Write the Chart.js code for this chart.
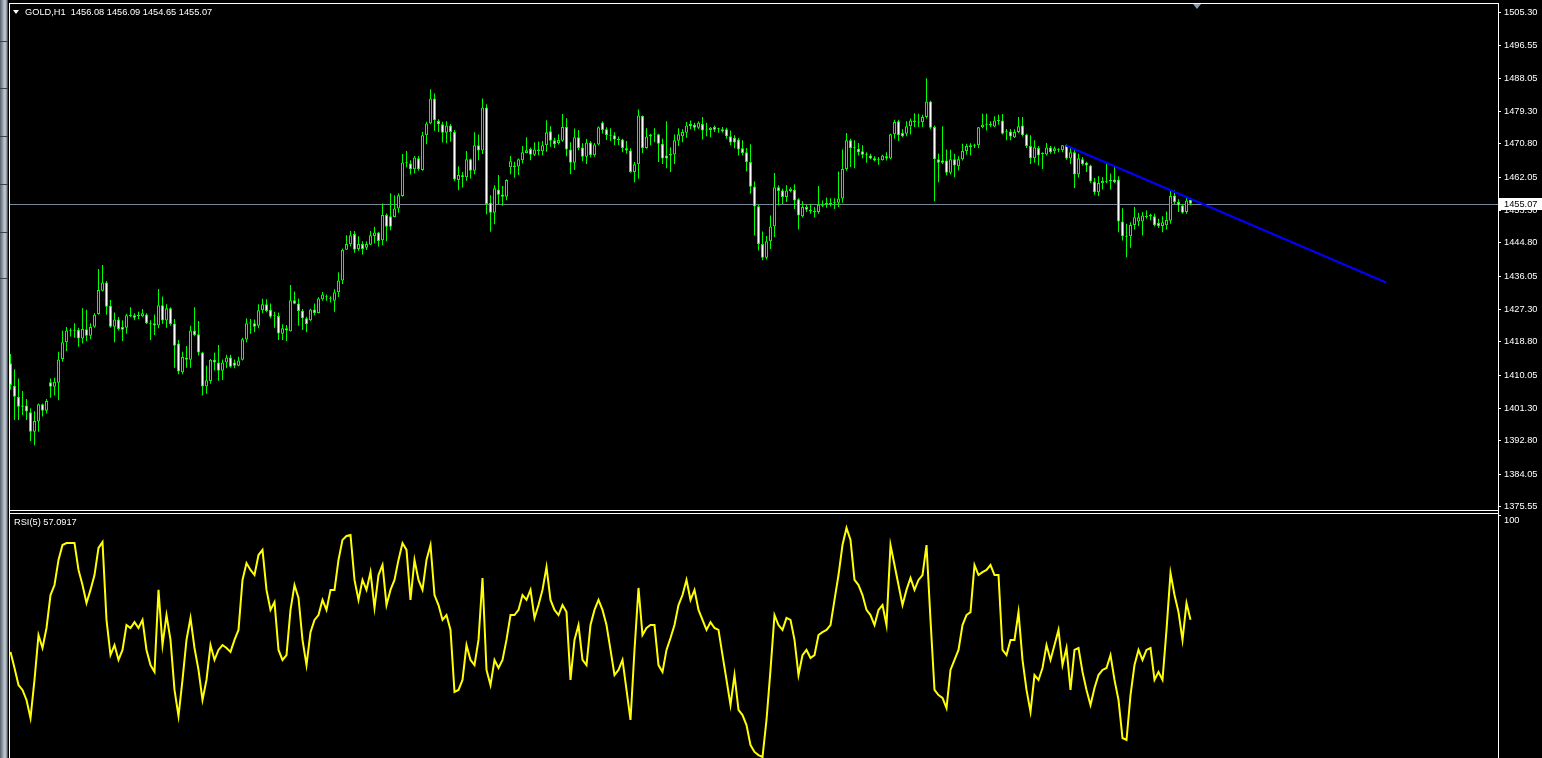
<!DOCTYPE html>
<html>
<head>
<meta charset="utf-8">
<title>GOLD,H1</title>
<script src="https://cdn.jsdelivr.net/npm/chart.js@4.4.1/dist/chart.umd.min.js"></script>
<style>
    html, body { margin: 0; padding: 0; background: #000; overflow: hidden; }
    #wrap { position: relative; width: 1542px; height: 758px; background: #000; overflow: hidden; }
    .abs { position: absolute; }
    .line { position: absolute; background: #fff; }
    .txt { position: absolute; color: #fff; font: 9.25px "Liberation Sans", Arial, sans-serif; line-height: 11px; white-space: pre; }
    #sideBar {
        left: 0; top: 0; width: 8px; height: 758px;
        background: linear-gradient(to right, #55606c 0px, #9aa5b0 3px, #c8ced4 5px, #7d8894 7px, #1d2126 8px);
    }
    .sep { position: absolute; left: 0; width: 8px; height: 1px; background: #3a424a; }
</style>
</head>
<body>
<div id="wrap">
    <div id="sideBar" class="abs"></div>
    <div class="sep" style="top:41px"></div>
    <div class="sep" style="top:88px"></div>
    <div class="sep" style="top:136px"></div>
    <div class="sep" style="top:184px"></div>
    <div class="sep" style="top:232px"></div>
    <div class="sep" style="top:278px"></div>

    <canvas id="priceChart" class="abs" style="left:0;top:0" width="1542" height="512"></canvas>
    <canvas id="rsiChart" class="abs" style="left:0;top:513px" width="1542" height="245"></canvas>

    <!-- window frames -->
    <div class="line" style="left:9px;top:3px;width:1490px;height:1px"></div>
    <div class="line" style="left:9px;top:510px;width:1490px;height:1px"></div>
    <div class="line" style="left:9px;top:513px;width:1490px;height:1px"></div>
    <div class="line" style="left:9px;top:3px;width:1px;height:755px"></div>
    <div class="line" style="left:1498px;top:3px;width:1px;height:755px"></div>

    <!-- header texts -->
    <div class="abs" style="left:13px;top:10px;width:0;height:0;border-left:3px solid transparent;border-right:3px solid transparent;border-top:4px solid #fff"></div>
    <div class="txt" id="header" style="left:25px;top:7px"></div>
    <div class="txt" id="rsiHeader" style="left:14px;top:517px"></div>
    <div class="abs" style="left:1193px;top:4px;width:0;height:0;border-left:4px solid transparent;border-right:4px solid transparent;border-top:5px solid #8c9bab"></div>
</div>

<script>
// GOLD H1 candles, one entry per hour (oldest first)
const openPrices = [
    1413.2, 1407.3, 1404.4, 1402.1, 1402.1, 1400.3, 1395.2, 1397.9, 1402.4, 1400.7,
    1408.2, 1407.0, 1408.1, 1414.3, 1418.7, 1421.8, 1421.7, 1422.0, 1419.7, 1422.1,
    1420.4, 1422.8, 1426.1, 1432.2, 1434.4, 1428.3, 1422.8, 1424.7, 1422.7, 1422.5,
    1425.8, 1425.8, 1425.6, 1425.5, 1426.0, 1423.6, 1423.7, 1423.1, 1428.4, 1424.4,
    1427.6, 1423.6, 1418.4, 1410.8, 1414.7, 1414.1, 1421.8, 1420.8, 1416.0, 1407.1,
    1408.5, 1414.1, 1413.4, 1411.2, 1413.4, 1414.7, 1413.4, 1412.5, 1414.1, 1419.4,
    1423.7, 1423.7, 1423.0, 1427.1, 1428.7, 1427.2, 1425.6, 1425.6, 1420.9, 1422.4,
    1421.6, 1429.7, 1428.9, 1427.0, 1425.0, 1424.5, 1427.3, 1426.4, 1430.0, 1430.6,
    1430.1, 1429.6, 1431.8, 1434.9, 1443.0, 1444.4, 1447.1, 1443.2, 1444.5, 1443.5,
    1444.3, 1446.6, 1447.5, 1445.5, 1452.1, 1451.8, 1451.6, 1453.8, 1457.1, 1465.9,
    1465.6, 1464.1, 1467.0, 1463.9, 1473.0, 1476.1, 1482.7, 1476.8, 1475.9, 1473.7,
    1475.6, 1473.9, 1461.3, 1462.1, 1462.0, 1466.7, 1463.7, 1470.4, 1469.0, 1480.3,
    1455.3, 1452.7, 1458.8, 1457.5, 1456.9, 1464.6, 1465.1, 1464.8, 1466.5, 1468.4,
    1469.4, 1467.9, 1469.3, 1468.8, 1470.4, 1474.1, 1471.7, 1471.0, 1471.6, 1475.2,
    1469.3, 1465.8, 1472.5, 1469.8, 1467.4, 1471.1, 1467.8, 1470.6, 1476.4, 1474.6,
    1473.0, 1473.0, 1471.9, 1471.9, 1469.6, 1469.0, 1463.4, 1465.4, 1478.1, 1469.7,
    1472.7, 1473.2, 1473.3, 1470.8, 1467.7, 1467.7, 1468.0, 1471.6, 1472.8, 1473.7,
    1476.0, 1475.8, 1475.0, 1476.0, 1474.4, 1474.4, 1475.2, 1474.7, 1474.6, 1474.6,
    1472.8, 1472.4, 1471.9, 1469.6, 1468.6, 1466.0, 1459.6, 1454.4, 1444.5, 1440.9,
    1445.2, 1449.1, 1459.4, 1458.5, 1456.8, 1458.4, 1458.7, 1456.2, 1451.8, 1454.2,
    1453.5, 1453.1, 1452.9, 1454.6, 1455.0, 1455.0, 1455.3, 1455.3, 1456.4, 1464.2,
    1471.7, 1469.7, 1469.5, 1468.8, 1468.0, 1467.7, 1467.0, 1466.7, 1466.5, 1467.5,
    1466.9, 1473.3, 1476.7, 1473.6, 1473.4, 1475.4, 1476.5, 1476.5, 1476.5, 1477.8,
    1481.9, 1475.2, 1466.7, 1466.4, 1466.4, 1463.2, 1466.7, 1464.9, 1466.7, 1468.9,
    1469.9, 1470.4, 1470.4, 1475.1, 1475.9, 1476.0, 1475.3, 1476.9, 1476.9, 1473.9,
    1474.0, 1472.5, 1473.9, 1475.6, 1473.2, 1470.2, 1467.0, 1469.7, 1468.2, 1468.0,
    1469.8, 1468.8, 1469.3, 1469.1, 1470.4, 1466.9, 1468.6, 1462.7, 1466.7, 1465.8,
    1465.1, 1460.9, 1458.1, 1460.4, 1460.9, 1460.9, 1461.4, 1461.4, 1450.4, 1446.5,
    1446.5, 1449.5, 1450.4, 1450.4, 1451.7, 1451.7, 1451.8, 1450.0, 1449.2, 1449.4,
    1450.6, 1457.2, 1455.5, 1454.6, 1452.9, 1456.08
];
const highPrices = [
    1415.6, 1411.6, 1409.2, 1405.9, 1403.8, 1401.4, 1400.6, 1402.6, 1402.6, 1403.8,
    1409.2, 1409.4, 1416.2, 1421.7, 1422.7, 1422.4, 1423.7, 1422.5, 1427.6, 1427.2,
    1423.7, 1426.4, 1437.9, 1439.0, 1434.8, 1429.8, 1426.5, 1425.3, 1424.5, 1426.2,
    1427.9, 1426.3, 1426.7, 1427.4, 1426.3, 1424.5, 1426.0, 1432.7, 1430.7, 1428.7,
    1427.9, 1424.8, 1419.3, 1416.2, 1417.7, 1423.0, 1427.9, 1424.3, 1416.2, 1412.5,
    1414.3, 1416.0, 1418.0, 1414.2, 1415.4, 1415.4, 1414.2, 1414.9, 1419.9, 1425.0,
    1424.8, 1424.7, 1428.7, 1430.1, 1430.0, 1428.9, 1426.7, 1426.5, 1423.4, 1423.2,
    1433.7, 1432.0, 1430.2, 1427.4, 1425.4, 1427.5, 1428.9, 1430.5, 1431.9, 1431.2,
    1430.8, 1432.6, 1437.1, 1443.3, 1446.8, 1447.9, 1447.9, 1446.5, 1445.2, 1445.2,
    1447.9, 1449.0, 1447.7, 1455.1, 1452.5, 1457.8, 1457.3, 1457.8, 1468.1, 1468.9,
    1466.5, 1467.6, 1467.6, 1473.9, 1476.6, 1485.1, 1484.0, 1477.2, 1476.6, 1476.7,
    1476.0, 1474.4, 1464.9, 1463.4, 1468.9, 1466.9, 1473.8, 1473.2, 1482.7, 1481.2,
    1457.3, 1459.9, 1462.6, 1459.7, 1461.5, 1467.6, 1466.1, 1466.9, 1470.2, 1472.5,
    1469.8, 1471.2, 1471.4, 1471.5, 1477.0, 1475.4, 1472.4, 1473.3, 1478.6, 1477.5,
    1471.2, 1474.8, 1474.4, 1470.9, 1472.1, 1471.5, 1471.0, 1475.3, 1476.7, 1475.1,
    1474.9, 1473.8, 1472.7, 1472.1, 1471.5, 1469.6, 1466.0, 1479.8, 1478.2, 1474.9,
    1473.4, 1474.9, 1473.4, 1472.1, 1476.7, 1469.9, 1473.2, 1474.9, 1474.6, 1476.5,
    1476.9, 1476.3, 1476.7, 1477.8, 1476.3, 1475.2, 1475.6, 1475.0, 1475.2, 1475.0,
    1474.3, 1473.0, 1472.3, 1471.7, 1469.7, 1470.7, 1460.9, 1454.8, 1447.8, 1446.6,
    1452.0, 1463.1, 1459.9, 1459.0, 1459.9, 1459.4, 1460.2, 1456.5, 1455.7, 1454.8,
    1455.0, 1454.2, 1459.7, 1455.9, 1456.7, 1456.5, 1456.5, 1463.5, 1469.3, 1473.6,
    1472.1, 1471.7, 1471.0, 1470.4, 1468.6, 1468.2, 1467.5, 1467.3, 1467.9, 1468.6,
    1473.4, 1477.1, 1477.1, 1474.6, 1476.7, 1477.4, 1478.8, 1478.7, 1478.4, 1488.0,
    1482.1, 1475.6, 1468.2, 1475.4, 1469.3, 1469.2, 1468.2, 1467.5, 1470.8, 1470.8,
    1470.9, 1470.8, 1475.2, 1478.7, 1478.7, 1476.7, 1478.0, 1478.4, 1478.6, 1474.7,
    1474.7, 1474.6, 1477.8, 1477.8, 1473.4, 1473.0, 1471.7, 1470.2, 1468.6, 1471.0,
    1470.2, 1470.1, 1469.6, 1470.5, 1470.6, 1469.7, 1469.3, 1468.2, 1467.3, 1466.1,
    1465.3, 1461.8, 1462.3, 1462.0, 1465.5, 1463.0, 1465.1, 1462.3, 1453.9, 1449.8,
    1450.2, 1454.2, 1452.7, 1452.9, 1453.3, 1452.4, 1452.4, 1451.1, 1451.8, 1453.0,
    1458.6, 1458.5, 1456.2, 1455.0, 1457.0, 1456.09
];
const lowPrices = [
    1406.2, 1398.3, 1398.3, 1399.6, 1398.3, 1392.8, 1391.6, 1395.2, 1399.2, 1400.0,
    1404.1, 1404.7, 1403.5, 1413.6, 1416.4, 1420.2, 1419.9, 1417.5, 1418.4, 1419.0,
    1419.5, 1422.5, 1425.9, 1432.0, 1425.9, 1422.5, 1418.7, 1421.8, 1419.0, 1420.9,
    1425.3, 1424.5, 1424.8, 1425.3, 1423.5, 1419.3, 1420.6, 1422.4, 1423.5, 1422.5,
    1423.0, 1412.0, 1410.3, 1410.3, 1412.0, 1412.0, 1420.3, 1415.2, 1404.7, 1405.2,
    1407.8, 1411.3, 1408.6, 1408.8, 1411.9, 1412.0, 1411.9, 1412.4, 1413.9, 1418.7,
    1420.9, 1421.3, 1422.4, 1426.3, 1426.6, 1425.0, 1422.5, 1419.3, 1419.3, 1419.0,
    1421.5, 1428.7, 1423.0, 1421.9, 1421.3, 1424.3, 1425.8, 1426.3, 1429.6, 1429.6,
    1429.1, 1426.7, 1430.6, 1434.0, 1442.9, 1443.8, 1442.2, 1442.7, 1441.7, 1442.9,
    1444.2, 1444.6, 1443.8, 1444.2, 1445.2, 1448.1, 1451.5, 1452.7, 1456.9, 1464.6,
    1462.7, 1463.0, 1463.7, 1463.7, 1470.7, 1475.9, 1474.2, 1473.9, 1471.1, 1470.9,
    1471.3, 1461.0, 1458.6, 1459.3, 1461.1, 1461.7, 1462.8, 1466.5, 1468.1, 1452.3,
    1447.7, 1449.7, 1455.0, 1454.5, 1456.0, 1462.8, 1461.9, 1462.6, 1465.6, 1468.3,
    1466.5, 1467.6, 1467.8, 1467.8, 1468.7, 1470.0, 1469.7, 1470.6, 1471.3, 1467.5,
    1462.8, 1463.9, 1469.1, 1466.2, 1465.5, 1467.2, 1467.4, 1470.4, 1473.5, 1471.8,
    1471.5, 1470.5, 1470.5, 1468.6, 1468.2, 1463.2, 1460.7, 1461.6, 1468.4, 1469.5,
    1470.4, 1471.2, 1466.0, 1465.5, 1464.4, 1463.4, 1465.5, 1470.2, 1471.2, 1472.4,
    1474.6, 1474.3, 1474.7, 1471.9, 1472.8, 1472.5, 1473.9, 1473.7, 1473.7, 1472.1,
    1470.4, 1469.6, 1467.7, 1467.7, 1463.5, 1457.7, 1446.7, 1442.8, 1440.2, 1440.4,
    1443.2, 1446.3, 1454.6, 1455.0, 1455.5, 1458.1, 1453.7, 1448.3, 1451.5, 1452.9,
    1452.4, 1451.5, 1452.4, 1454.2, 1454.0, 1454.3, 1453.7, 1454.2, 1455.3, 1463.7,
    1464.7, 1464.4, 1467.7, 1467.0, 1465.8, 1466.7, 1466.2, 1465.3, 1466.4, 1466.4,
    1466.7, 1472.1, 1471.5, 1472.5, 1472.8, 1473.2, 1475.2, 1475.2, 1475.2, 1477.4,
    1474.6, 1455.7, 1460.7, 1465.5, 1462.5, 1462.7, 1462.0, 1463.8, 1466.4, 1467.9,
    1467.7, 1469.7, 1469.7, 1474.9, 1474.3, 1475.2, 1475.2, 1475.8, 1473.2, 1471.7,
    1471.7, 1472.3, 1473.6, 1472.7, 1469.7, 1465.5, 1465.8, 1465.1, 1464.2, 1467.7,
    1468.2, 1468.2, 1468.6, 1468.6, 1466.6, 1465.5, 1459.2, 1461.9, 1465.1, 1463.4,
    1460.5, 1457.4, 1457.1, 1458.8, 1460.5, 1458.8, 1460.5, 1447.6, 1445.4, 1441.0,
    1443.5, 1448.3, 1449.2, 1446.7, 1451.1, 1450.7, 1449.1, 1448.7, 1447.6, 1448.3,
    1449.8, 1455.0, 1452.9, 1452.4, 1452.4, 1454.65
];
const closePrices = [
    1407.5, 1404.4, 1401.8, 1401.8, 1400.5, 1395.2, 1398.0, 1402.4, 1400.7, 1403.3,
    1407.0, 1408.3, 1414.2, 1418.7, 1421.8, 1421.6, 1422.0, 1419.7, 1422.2, 1420.4,
    1422.7, 1425.9, 1432.4, 1434.4, 1428.0, 1422.8, 1424.7, 1422.2, 1422.0, 1425.8,
    1425.6, 1425.1, 1425.8, 1426.3, 1423.7, 1423.4, 1423.1, 1428.4, 1424.4, 1427.6,
    1423.5, 1417.8, 1411.0, 1414.8, 1414.1, 1421.8, 1420.6, 1416.0, 1407.1, 1408.7,
    1414.1, 1413.4, 1411.2, 1413.4, 1414.7, 1412.3, 1412.5, 1413.9, 1419.5, 1423.7,
    1423.6, 1422.8, 1427.1, 1428.7, 1426.9, 1425.4, 1425.5, 1421.0, 1422.4, 1421.8,
    1429.7, 1428.8, 1426.9, 1425.0, 1423.4, 1427.3, 1426.4, 1430.2, 1431.2, 1430.5,
    1430.2, 1431.8, 1434.9, 1443.0, 1444.5, 1446.8, 1443.0, 1444.5, 1443.2, 1444.5,
    1446.8, 1447.5, 1445.3, 1452.1, 1449.0, 1449.0, 1453.8, 1457.3, 1465.9, 1465.7,
    1464.1, 1467.2, 1464.1, 1473.0, 1476.1, 1482.7, 1477.0, 1475.9, 1473.7, 1475.6,
    1473.9, 1461.4, 1462.6, 1462.5, 1466.7, 1463.7, 1470.4, 1469.0, 1480.3, 1455.0,
    1452.7, 1459.1, 1457.4, 1456.9, 1461.3, 1466.2, 1464.6, 1466.7, 1468.6, 1469.1,
    1467.9, 1469.3, 1468.8, 1470.4, 1473.8, 1471.6, 1470.7, 1471.8, 1475.2, 1469.3,
    1465.8, 1472.5, 1469.7, 1467.4, 1471.1, 1467.8, 1470.6, 1475.1, 1474.4, 1473.1,
    1472.9, 1471.9, 1471.8, 1469.7, 1469.0, 1463.4, 1465.4, 1478.2, 1469.7, 1472.7,
    1473.2, 1473.3, 1470.8, 1466.9, 1466.9, 1468.1, 1471.7, 1473.3, 1473.9, 1475.6,
    1475.4, 1475.0, 1476.3, 1474.3, 1474.3, 1475.0, 1474.5, 1474.6, 1474.0, 1472.8,
    1471.1, 1471.1, 1469.3, 1468.4, 1466.0, 1459.5, 1454.3, 1444.5, 1440.9, 1445.2,
    1449.1, 1459.4, 1458.4, 1456.8, 1458.5, 1459.0, 1455.9, 1452.0, 1454.2, 1453.5,
    1453.0, 1452.9, 1454.8, 1454.5, 1455.1, 1455.1, 1455.4, 1456.4, 1464.2, 1471.7,
    1469.7, 1469.6, 1468.6, 1467.9, 1467.9, 1466.9, 1466.4, 1466.6, 1467.7, 1466.9,
    1473.3, 1476.5, 1473.0, 1472.8, 1475.4, 1476.9, 1476.9, 1476.4, 1477.8, 1481.9,
    1475.0, 1466.7, 1465.8, 1465.8, 1463.2, 1466.7, 1465.1, 1466.7, 1468.9, 1470.2,
    1470.4, 1470.3, 1475.1, 1475.8, 1475.8, 1475.6, 1476.9, 1476.8, 1473.4, 1473.8,
    1472.7, 1473.9, 1475.4, 1473.0, 1470.2, 1467.0, 1469.9, 1467.7, 1468.1, 1469.8,
    1468.6, 1469.6, 1469.2, 1470.4, 1466.9, 1468.6, 1462.7, 1467.0, 1465.5, 1465.1,
    1460.9, 1458.1, 1460.5, 1461.0, 1460.8, 1461.3, 1460.7, 1450.4, 1446.5, 1446.4,
    1449.5, 1451.5, 1451.5, 1452.0, 1451.6, 1452.1, 1449.4, 1449.2, 1450.2, 1450.8,
    1457.1, 1455.5, 1454.6, 1452.7, 1455.9, 1455.07
];
// RSI(5) as drawn in the lower window
const rsiValues = [
    43.9, 37.3, 30.3, 28.3, 24.2, 16.8, 32.4, 50.8, 45.5, 53.7,
    67.2, 71.3, 81.6, 87.7, 88.5, 88.5, 88.5, 77.5, 71.3, 63.9,
    69.3, 75.4, 86.5, 88.9, 57.0, 42.6, 46.7, 40.6, 44.7, 54.9,
    53.7, 56.1, 53.7, 57.0, 44.7, 38.5, 35.7, 69.3, 46.7, 59.0,
    48.8, 28.3, 17.6, 32.4, 48.8, 57.8, 45.5, 36.5, 24.2, 32.4,
    46.7, 40.6, 44.7, 46.7, 45.5, 43.9, 48.8, 52.9, 73.4, 80.3,
    77.5, 75.4, 83.6, 85.7, 69.3, 61.1, 64.3, 44.7, 40.6, 42.6,
    61.1, 71.3, 66.0, 48.8, 38.5, 52.0, 57.0, 59.0, 65.2, 61.1,
    69.3, 69.3, 81.6, 89.8, 91.4, 91.8, 73.4, 65.2, 73.4, 69.3,
    76.6, 61.9, 75.4, 79.5, 63.1, 69.3, 73.4, 81.6, 88.5, 85.7,
    65.2, 81.6, 73.4, 69.3, 81.6, 87.7, 67.2, 63.1, 57.0, 59.0,
    52.9, 27.5, 28.3, 32.4, 46.7, 40.6, 38.5, 48.8, 74.2, 36.5,
    30.3, 40.6, 37.3, 40.6, 48.8, 59.0, 59.0, 61.1, 67.2, 65.2,
    69.3, 57.8, 63.1, 69.3, 78.7, 65.2, 61.1, 59.0, 63.1, 60.2,
    32.4, 48.8, 54.9, 40.6, 38.5, 54.9, 61.1, 65.2, 61.1, 54.9,
    44.7, 34.4, 36.5, 40.6, 28.3, 16.0, 44.7, 70.1, 50.8, 53.7,
    54.9, 54.9, 38.5, 35.7, 44.7, 49.6, 54.9, 63.1, 67.2, 73.4,
    65.2, 69.3, 61.1, 57.0, 52.9, 56.1, 53.7, 52.9, 42.6, 32.4,
    22.1, 34.4, 20.1, 18.0, 13.9, 5.7, 2.9, 1.6, 0.8, 16.0,
    36.5, 59.0, 54.9, 52.9, 57.8, 57.0, 48.8, 34.4, 42.6, 44.7,
    41.4, 42.6, 50.8, 52.0, 52.9, 54.9, 65.2, 75.4, 87.7, 94.7,
    89.8, 73.4, 71.3, 67.2, 61.1, 59.0, 54.9, 61.1, 63.1, 54.9,
    87.7, 79.5, 71.3, 63.1, 69.3, 74.2, 69.3, 73.4, 75.4, 87.7,
    57.0, 28.3, 26.2, 25.0, 20.9, 36.5, 40.6, 44.7, 54.9, 59.0,
    60.2, 79.5, 75.4, 76.6, 77.5, 79.5, 75.4, 75.4, 44.7, 42.6,
    48.8, 48.8, 60.2, 40.6, 28.3, 19.3, 34.4, 32.4, 37.3, 46.7,
    40.6, 46.7, 52.9, 38.5, 45.5, 28.3, 44.7, 45.5, 35.7, 28.3,
    22.1, 29.1, 34.4, 36.5, 37.3, 42.6, 32.4, 24.2, 8.6, 7.8,
    26.2, 38.5, 44.7, 40.6, 44.7, 45.5, 32.4, 35.7, 32.4, 52.9,
    76.2, 67.2, 60.2, 48.8, 63.9, 57.0917
];

const priceTicks = [1505.30, 1496.55, 1488.05, 1479.30, 1470.80, 1462.05, 1453.30, 1444.80,
                    1436.05, 1427.30, 1418.80, 1410.05, 1401.30, 1392.80, 1384.05, 1375.55];
const rsiTicks = [100, 0];
const bidPrice = 1455.07;

// trend line drawn on the chart: bar index and price of both ends
const trendX = [263.9, 343.9];
const trendY = [1470.34, 1434.39];

const symbolName = 'GOLD,H1';
const rsiName = 'RSI(5)';

// visible range of the chart (372 bar slots, the last 76 empty)
const xMin = -0.125;
const xMax = 371.875;
const priceMin = 1374.67;
const priceMax = 1507.48;
const rsiMin = 0.41;
const rsiMax = 100.41;

const n = openPrices.length;
if (highPrices.length !== n || lowPrices.length !== n || closePrices.length !== n || rsiValues.length !== n) {
    throw new Error('length mismatch ' + [n, highPrices.length, lowPrices.length, closePrices.length, rsiValues.length].join(','));
}

const fontFamily = '"Liberation Sans", Arial, sans-serif';
const labelFont = '9.25px ' + fontFamily;

document.getElementById('header').textContent = symbolName + '  ' +
    [openPrices[n - 1], highPrices[n - 1], lowPrices[n - 1], closePrices[n - 1]].map(v => v.toFixed(2)).join(' ');
document.getElementById('rsiHeader').textContent = rsiName + ' ' + rsiValues[n - 1].toFixed(4);

// bid line + price box on the right axis
const bidPlugin = {
    id: 'bidLine',
    beforeDatasetsDraw(chart) {
        const ctx = chart.ctx;
        const area = chart.chartArea;
        const y = Math.round(chart.scales.y.getPixelForValue(bidPrice)) + 0.5;
        ctx.save();
        ctx.strokeStyle = '#778899';
        ctx.lineWidth = 1;
        ctx.beginPath();
        ctx.moveTo(area.left, y);
        ctx.lineTo(area.right, y);
        ctx.stroke();
        ctx.restore();
    },
    afterDraw(chart) {
        const ctx = chart.ctx;
        const area = chart.chartArea;
        const y = Math.round(chart.scales.y.getPixelForValue(bidPrice));
        ctx.save();
        ctx.fillStyle = '#ffffff';
        ctx.fillRect(area.right + 1, y - 6, 43, 12);
        ctx.fillStyle = '#000000';
        ctx.font = labelFont;
        ctx.textBaseline = 'middle';
        ctx.fillText(bidPrice.toFixed(2), area.right + 6, y + 0.5);
        ctx.restore();
    }
};

function rightAxis(min, max, values, format, offset) {
    return {
        position: 'right',
        min: min,
        max: max,
        afterBuildTicks: axis => { axis.ticks = values.map(v => ({ value: v })); },
        afterFit: scale => { scale.width = 44; scale.paddingTop = 0; scale.paddingBottom = 0; },
        border: { display: false },
        grid: { display: true, drawOnChartArea: false, drawTicks: true, tickLength: 3, color: '#ffffff', lineWidth: 1 },
        ticks: {
            color: '#ffffff',
            font: { family: fontFamily, size: 9.25 },
            padding: 3,
            autoSkip: false,
            labelOffset: offset,
            callback: format
        }
    };
}

const bodies = openPrices.map((o, i) => ({ x: i, y: [o, closePrices[i]] }));
const wicks = lowPrices.map((l, i) => ({ x: i, y: [l, highPrices[i]] }));
const bodyFill = openPrices.map((o, i) => closePrices[i] >= o ? '#000000' : '#ffffff');

new Chart(document.getElementById('priceChart'), {
    type: 'bar',
    data: {
        datasets: [{
            label: 'wick',
            data: wicks,
            backgroundColor: '#00ff00',
            borderWidth: 0,
            barThickness: 1,
            grouped: false,
            inflateAmount: 0,
            order: 3
        }, {
            label: 'body',
            data: bodies,
            backgroundColor: bodyFill,
            borderColor: '#00ff00',
            borderWidth: 1,
            borderSkipped: false,
            barThickness: 3,
            minBarLength: 1,
            grouped: false,
            inflateAmount: 0,
            order: 2
        }, {
            type: 'line',
            label: 'trend',
            data: trendX.map((x, i) => ({ x: x, y: trendY[i] })),
            borderColor: '#0000ff',
            borderWidth: 2,
            pointRadius: 0,
            order: 1
        }]
    },
    options: {
        responsive: false,
        animation: false,
        devicePixelRatio: 1,
        events: [],
        layout: { padding: { left: 10, top: 4, right: 0, bottom: 2 } },
        plugins: { legend: { display: false }, tooltip: { enabled: false } },
        scales: {
            x: { type: 'linear', display: false, min: xMin, max: xMax, offset: false },
            y: rightAxis(priceMin, priceMax, priceTicks, v => v.toFixed(2), 0)
        }
    },
    plugins: [bidPlugin]
});

new Chart(document.getElementById('rsiChart'), {
    type: 'line',
    data: {
        datasets: [{
            label: rsiName,
            data: rsiValues.map((v, i) => ({ x: i, y: v })),
            borderColor: '#ffff00',
            borderWidth: 2,
            pointRadius: 0,
            tension: 0
        }]
    },
    options: {
        responsive: false,
        animation: false,
        devicePixelRatio: 1,
        events: [],
        layout: { padding: { left: 10, top: 1, right: 0, bottom: 0 } },
        plugins: { legend: { display: false }, tooltip: { enabled: false } },
        scales: {
            x: { type: 'linear', display: false, min: xMin, max: xMax, offset: false },
            y: rightAxis(rsiMin, rsiMax, rsiTicks, v => String(v), 5)
        }
    }
});
</script>
</body>
</html>
